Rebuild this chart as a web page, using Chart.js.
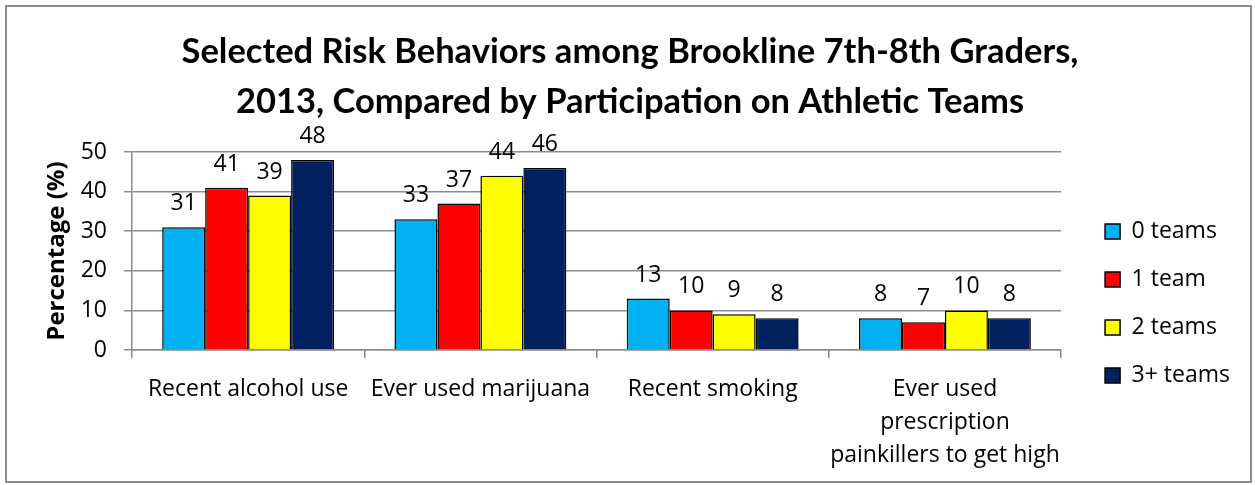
<!DOCTYPE html>
<html>
<head>
<meta charset="utf-8">
<script src="https://cdn.jsdelivr.net/npm/chart.js@4"></script>
<style>
  body { margin: 0; background: #fff; }
  #wrap { position: relative; width: 1255px; height: 485px; }
  #frame { position: absolute; left: 5px; top: 5px; width: 1243px; height: 474px;
           border: 2px solid #8c8c8c; pointer-events: none; }
</style>
</head>
<body>
<div id="wrap">
  <canvas id="chart"></canvas>
  <div id="frame"></div>
</div>
<script>
const categories = ['Recent alcohol use', 'Ever used marijuana', 'Recent smoking',
  ['Ever used', 'prescription', 'painkillers to get high']]
const zeroTeams = [31, 33, 13, 8]
const oneTeam = [41, 37, 10, 7]
const twoTeams = [39, 44, 9, 10]
const threePlusTeams = [48, 46, 8, 8]
const yTicks = [0, 10, 20, 30, 40, 50]

const font = '"Open Sans", sans-serif'
const titleFont = 'Lato, "Open Sans", sans-serif'
const textSize = 23

// value labels above every bar
const barLabels = {
  id: 'barLabels',
  afterDatasetsDraw(chart) {
    const ctx = chart.ctx
    ctx.save()
    ctx.font = textSize + 'px ' + font
    ctx.fillStyle = '#000'
    ctx.textAlign = 'center'
    ctx.textBaseline = 'alphabetic'
    chart.data.datasets.forEach((ds, i) => {
      chart.getDatasetMeta(i).data.forEach((bar, j) => {
        ctx.fillText(ds.data[j], bar.x, bar.y - 17)
      })
    })
    ctx.restore()
  }
}

// put the legend a fixed gap right of the plot, a bit lower than centered
const legendShift = {
  id: 'legendShift',
  afterLayout(chart) {
    const l = chart.legend
    const w = l.right - l.left
    l.left = chart.chartArea.right + 19
    l.right = l.left + w
    l.top += 61; l.bottom += 61
  }
}

function series(label, data, color) {
  return { label, data, backgroundColor: color, borderColor: '#000', borderWidth: 1.5 }
}

new Chart(document.getElementById('chart'), {
  type: 'bar',
  data: {
    labels: categories,
    datasets: [
      series('0 teams', zeroTeams, '#00B0F0'),
      series('1 team', oneTeam, '#FF0000'),
      series('2 teams', twoTeams, '#FFFF00'),
      series('3+ teams', threePlusTeams, '#002060')
    ]
  },
  options: {
    responsive: true,
    maintainAspectRatio: false,
    animation: false,
    datasets: { bar: { categoryPercentage: 0.74, barPercentage: 1.0 } },
    layout: { padding: { left: 39, right: 34, top: 0, bottom: 0 } },
    scales: {
      x: {
        afterFit: axis => { axis.height = 135 },
        grid: { drawOnChartArea: false, drawTicks: true, tickLength: 8, color: '#8c8c8c', lineWidth: 1.5, offset: true },
        border: { color: '#8c8c8c', width: 1.5 },
        ticks: { color: '#000', font: { family: font, size: textSize, lineHeight: 1.43 }, padding: 15, maxRotation: 0, autoSkip: false }
      },
      y: {
        min: 0,
        max: 50,
        afterBuildTicks: axis => { axis.ticks = yTicks.map(v => ({ value: v })) },
        afterFit: axis => { axis.width = 93 },
        grid: { color: '#8c8c8c', lineWidth: 1.5, tickLength: 8 },
        border: { color: '#8c8c8c', width: 1.5 },
        ticks: { color: '#000', font: { family: font, size: textSize }, padding: 17 },
        title: { display: true, text: 'Percentage (%)', color: '#000',
                 font: { family: font, size: 24, weight: 'bold' }, padding: { top: 4, bottom: 4 } }
      }
    },
    plugins: {
      title: {
        display: true,
        text: ['Selected Risk Behaviors among Brookline 7th-8th Graders,',
               '2013, Compared by Participation on Athletic Teams'],
        color: '#000',
        font: { family: titleFont, size: 34.5, weight: 'bold', lineHeight: 1.45 },
        padding: { top: 27, bottom: 25 }
      },
      legend: {
        position: 'right',
        labels: { color: '#000', font: { family: font, size: textSize }, boxWidth: 15, boxHeight: 15, padding: 25 }
      },
      tooltip: { enabled: false }
    }
  },
  plugins: [barLabels, legendShift]
})
</script>
</body>
</html>
